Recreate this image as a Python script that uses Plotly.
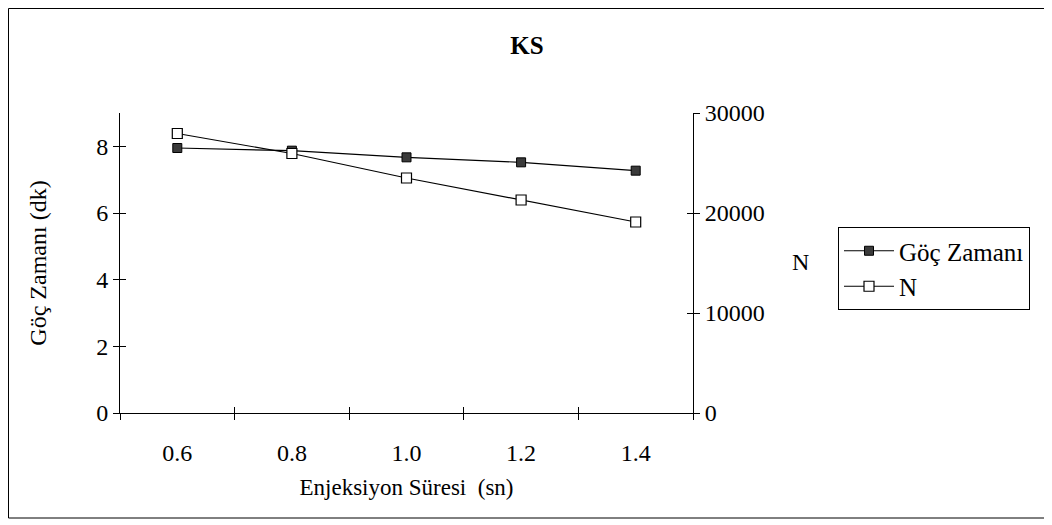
import plotly.graph_objects as go

categories = ["0.6", "0.8", "1.0", "1.2", "1.4"]
goc_zamani = [7.95, 7.87, 7.67, 7.52, 7.27]
n_values = [27950, 25950, 23500, 21300, 19100]

FONT = "Liberation Serif, Times New Roman, serif"
W, H = 1044, 517
L, R, T, B = 112, 359, 105, 112
PW, PH = W - L - R, H - T - B

fig = go.Figure()
fig.add_trace(go.Scatter(
    x=categories, y=goc_zamani, name="Göç Zamanı", mode="lines+markers",
    line=dict(color="black", width=1.2),
    marker=dict(symbol="square", size=9, color="#3a3a3a", line=dict(color="black", width=1)),
    xaxis="x", yaxis="y"))
fig.add_trace(go.Scatter(
    x=categories, y=n_values, name="N", mode="lines+markers",
    line=dict(color="black", width=1.2),
    marker=dict(symbol="square", size=10, color="white", line=dict(color="black", width=1.2)),
    xaxis="x", yaxis="y2"))

axis_common = dict(showgrid=False, zeroline=False, showline=True, linecolor="black",
                   linewidth=1, tickcolor="black", ticklen=6,
                   tickfont=dict(family=FONT, size=24, color="black"))
overlay_common = dict(showticklabels=False, showgrid=False, zeroline=False,
                      showline=False, tickcolor="black", ticklen=6, ticks="inside")

fig.update_layout(
    width=W, height=H,
    margin=dict(l=L, r=R, t=T, b=B),
    paper_bgcolor="white", plot_bgcolor="white",
    font=dict(family=FONT, size=24, color="black"),
    title=dict(text="<b>KS</b>", x=519 / W, xref="container", y=1 - 37 / H, yref="container",
               xanchor="center", yanchor="middle", font=dict(family=FONT, size=25, color="black")),
    xaxis=dict(type="category", categoryorder="array", categoryarray=categories,
               range=[-0.5, 4.5], tickson="boundaries", ticks="outside", ticklabelstandoff=18,
               title=dict(text="Enjeksiyon Süresi  (sn)", font=dict(family=FONT, size=23), standoff=14),
               **axis_common),
    xaxis2=dict(overlaying="x", anchor="y", range=[-0.5, 4.5], tick0=-0.5, dtick=1,
                side="bottom", **overlay_common),
    yaxis=dict(range=[0, 9], tick0=0, dtick=2, ticks="outside",
               title=dict(text="Göç Zamanı (dk)", font=dict(family=FONT, size=24), standoff=42),
               **axis_common),
    yaxis3=dict(overlaying="y", anchor="x", range=[0, 9], tick0=0, dtick=2, side="left",
                **overlay_common),
    yaxis2=dict(overlaying="y", side="right", anchor="x", range=[0, 30000], tick0=0, dtick=10000,
                tickformat="d", ticks="outside", **axis_common),
    yaxis4=dict(overlaying="y", side="right", anchor="x", range=[0, 30000], tick0=0, dtick=10000,
                **overlay_common),
    legend=dict(x=(830 - L) / PW, y=(T + PH - 219) / PH, xanchor="left", yanchor="top",
                bordercolor="black", borderwidth=1, bgcolor="white",
                font=dict(family=FONT, size=25, color="black"),
                tracegroupgap=0, itemwidth=50),
    showlegend=True,
)

# dummy traces so overlay axes render
fig.add_trace(go.Scatter(x=[None], y=[None], xaxis="x2", yaxis="y3", showlegend=False, hoverinfo="skip"))
fig.add_trace(go.Scatter(x=[None], y=[None], xaxis="x", yaxis="y4", showlegend=False, hoverinfo="skip"))

fig.add_annotation(text="N", xref="paper", yref="paper",
                   x=(792 - L) / PW, y=(T + PH - 254) / PH, showarrow=False,
                   xanchor="center", yanchor="middle", font=dict(family=FONT, size=24, color="black"))

# outer border
fig.add_shape(type="rect", xref="paper", yref="paper",
              x0=(0.5 - L) / PW, x1=(1038 - L) / PW,
              y0=(T + PH - 510) / PH, y1=(T + PH - 0.5) / PH,
              line=dict(color="black", width=1), fillcolor="rgba(0,0,0,0)", layer="below")

fig.write_html("out.html")
